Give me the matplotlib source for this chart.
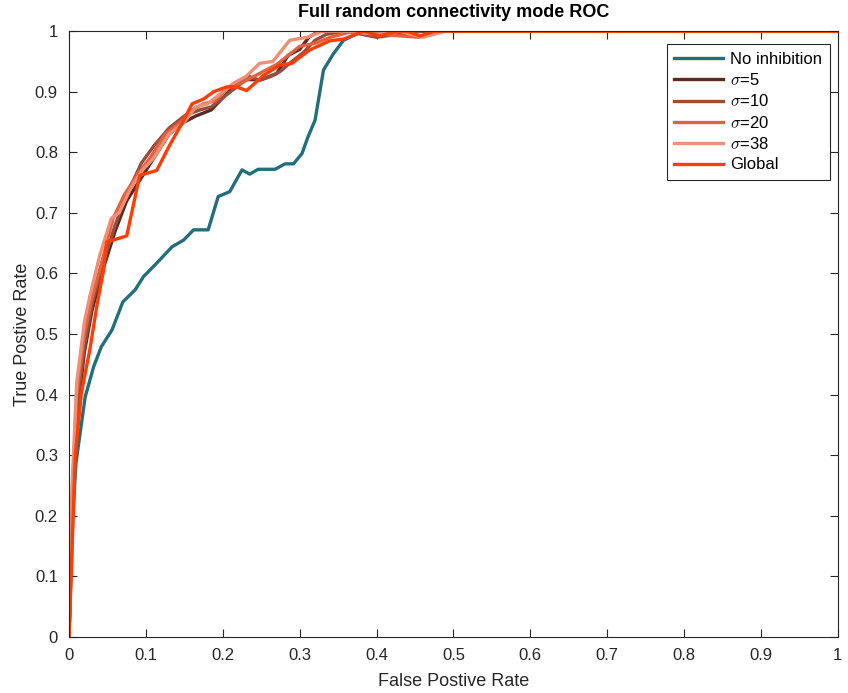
import matplotlib
matplotlib.use('Agg')
import matplotlib.pyplot as plt

plt.rcParams['font.family'] = ['Liberation Sans', 'DejaVu Sans']
plt.rcParams['mathtext.fontset'] = 'cm'

# ROC curves
fpr_none = [0, 0.005, 0.009, 0.021, 0.032, 0.042, 0.056, 0.070, 0.086, 0.097, 0.114, 0.134,
            0.149, 0.162, 0.181, 0.194, 0.209, 0.225, 0.235, 0.246, 0.268, 0.281, 0.292,
            0.303, 0.311, 0.320, 0.331, 0.344, 0.357, 0.370, 0.382, 1.0]
tpr_none = [0, 0.20, 0.287, 0.396, 0.446, 0.479, 0.507, 0.553, 0.573, 0.595, 0.617, 0.644,
            0.655, 0.672, 0.672, 0.727, 0.735, 0.771, 0.764, 0.772, 0.772, 0.781, 0.781,
            0.798, 0.826, 0.853, 0.936, 0.963, 0.985, 0.993, 1.0, 1.0]

fpr_s5 = [0, 0.004, 0.010, 0.020, 0.030, 0.045, 0.060, 0.075, 0.090, 0.100, 0.115, 0.130,
          0.150, 0.165, 0.185, 0.200, 0.215, 0.230, 0.250, 0.270, 0.285, 0.300, 0.312,
          0.325, 0.360, 0.400, 0.460, 1.0]
tpr_s5 = [0, 0.20, 0.36, 0.47, 0.54, 0.61, 0.67, 0.72, 0.75, 0.77, 0.80, 0.83,
          0.85, 0.86, 0.87, 0.89, 0.91, 0.92, 0.92, 0.93, 0.96, 0.97, 0.99,
          1.0, 1.0, 0.995, 1.0, 1.0]

fpr_s10 = [0, 0.004, 0.010, 0.020, 0.030, 0.045, 0.060, 0.075, 0.094, 0.110, 0.130,
           0.150, 0.170, 0.185, 0.200, 0.220, 0.235, 0.248, 0.262, 0.274, 0.290, 0.305,
           0.320, 0.335, 0.360, 0.400, 0.460, 1.0]
tpr_s10 = [0, 0.22, 0.38, 0.48, 0.55, 0.62, 0.68, 0.73, 0.782, 0.81, 0.84,
           0.86, 0.87, 0.875, 0.89, 0.91, 0.925, 0.919, 0.925, 0.933, 0.95, 0.965,
           0.985, 0.995, 1.0, 0.99, 1.0, 1.0]

fpr_s20 = [0, 0.004, 0.010, 0.020, 0.030, 0.045, 0.057, 0.072, 0.090, 0.105, 0.125,
           0.145, 0.160, 0.175, 0.190, 0.205, 0.225, 0.240, 0.255, 0.270, 0.285, 0.300,
           0.320, 0.340, 0.370, 0.400, 0.455, 0.48, 1.0]
tpr_s20 = [0, 0.23, 0.40, 0.50, 0.56, 0.63, 0.69, 0.73, 0.765, 0.79, 0.83,
           0.85, 0.87, 0.88, 0.885, 0.905, 0.915, 0.925, 0.935, 0.945, 0.96, 0.975,
           0.98, 0.99, 1.0, 0.995, 0.99, 1.0, 1.0]

fpr_s38 = [0, 0.004, 0.010, 0.020, 0.027, 0.040, 0.055, 0.065, 0.080, 0.095, 0.110,
           0.130, 0.150, 0.165, 0.180, 0.200, 0.215, 0.230, 0.248, 0.265, 0.287, 0.310,
           0.330, 0.360, 0.400, 0.430, 0.460, 0.490, 1.0]
tpr_s38 = [0, 0.25, 0.42, 0.52, 0.562, 0.63, 0.691, 0.70, 0.74, 0.77, 0.79,
           0.83, 0.85, 0.875, 0.88, 0.90, 0.915, 0.925, 0.947, 0.95, 0.985, 0.99,
           1.0, 1.0, 0.995, 1.0, 0.99, 1.0, 1.0]

fpr_global = [0, 0.008, 0.016, 0.027, 0.036, 0.045, 0.049, 0.057, 0.075, 0.092, 0.114,
              0.131, 0.147, 0.160, 0.175, 0.188, 0.205, 0.218, 0.231, 0.253, 0.274,
              0.290, 0.313, 0.339, 0.357, 0.383, 0.404, 0.426, 0.440, 0.456, 0.475, 1.0]
tpr_global = [0, 0.297, 0.402, 0.474, 0.545, 0.606, 0.652, 0.655, 0.662, 0.762, 0.770,
              0.812, 0.848, 0.880, 0.888, 0.900, 0.908, 0.908, 0.902, 0.927, 0.944,
              0.947, 0.969, 0.984, 0.987, 1.0, 0.992, 1.0, 1.0, 0.992, 1.0, 1.0]

labels = ['No inhibition', r'$\sigma$=5', r'$\sigma$=10', r'$\sigma$=20', r'$\sigma$=38', 'Global']
colors = ['#226f7b', '#5a2a22', '#9a4d3d', '#e2613f', '#ef8f76', '#ff3d05']

fig = plt.figure(figsize=(8.48, 6.93), dpi=100)
ax = fig.add_axes([0.0814, 0.081, 0.9066, 0.874])

curves = [(fpr_none, tpr_none), (fpr_s5, tpr_s5), (fpr_s10, tpr_s10),
          (fpr_s20, tpr_s20), (fpr_s38, tpr_s38), (fpr_global, tpr_global)]
for (x, y), lab, c in zip(curves, labels, colors):
    ax.plot(x, y, color=c, linewidth=2.4, label=lab)

ax.set_xlim(0, 1)
ax.set_ylim(0, 1)
ticks = [i / 10 for i in range(11)]
tick_labels = ['0', '0.1', '0.2', '0.3', '0.4', '0.5', '0.6', '0.7', '0.8', '0.9', '1']
ax.set_xticks(ticks)
ax.set_yticks(ticks)
ax.set_xticklabels(tick_labels)
ax.set_yticklabels(tick_labels)
ax.tick_params(direction='in', top=True, right=True, length=6, width=0.8,
               labelsize=12, colors='#262626', pad=8)
for s in ax.spines.values():
    s.set_color('#262626')
    s.set_linewidth(0.8)

ax.set_title('Full random connectivity mode ROC', fontsize=13, fontweight='bold', pad=10)
ax.set_xlabel('False Postive Rate', fontsize=13, color='#262626', labelpad=7)
ax.set_ylabel('True Postive Rate', fontsize=13, color='#262626', labelpad=2.5)

leg = ax.legend(loc='upper right', bbox_to_anchor=(0.9896, 0.9785), borderaxespad=0,
                fontsize=12, fancybox=False, framealpha=1, edgecolor='#262626',
                handlelength=2.9, borderpad=0.45, labelspacing=0.32, handletextpad=0.45)
leg.get_frame().set_linewidth(0.8)

fig.savefig('out.png', dpi=100)
